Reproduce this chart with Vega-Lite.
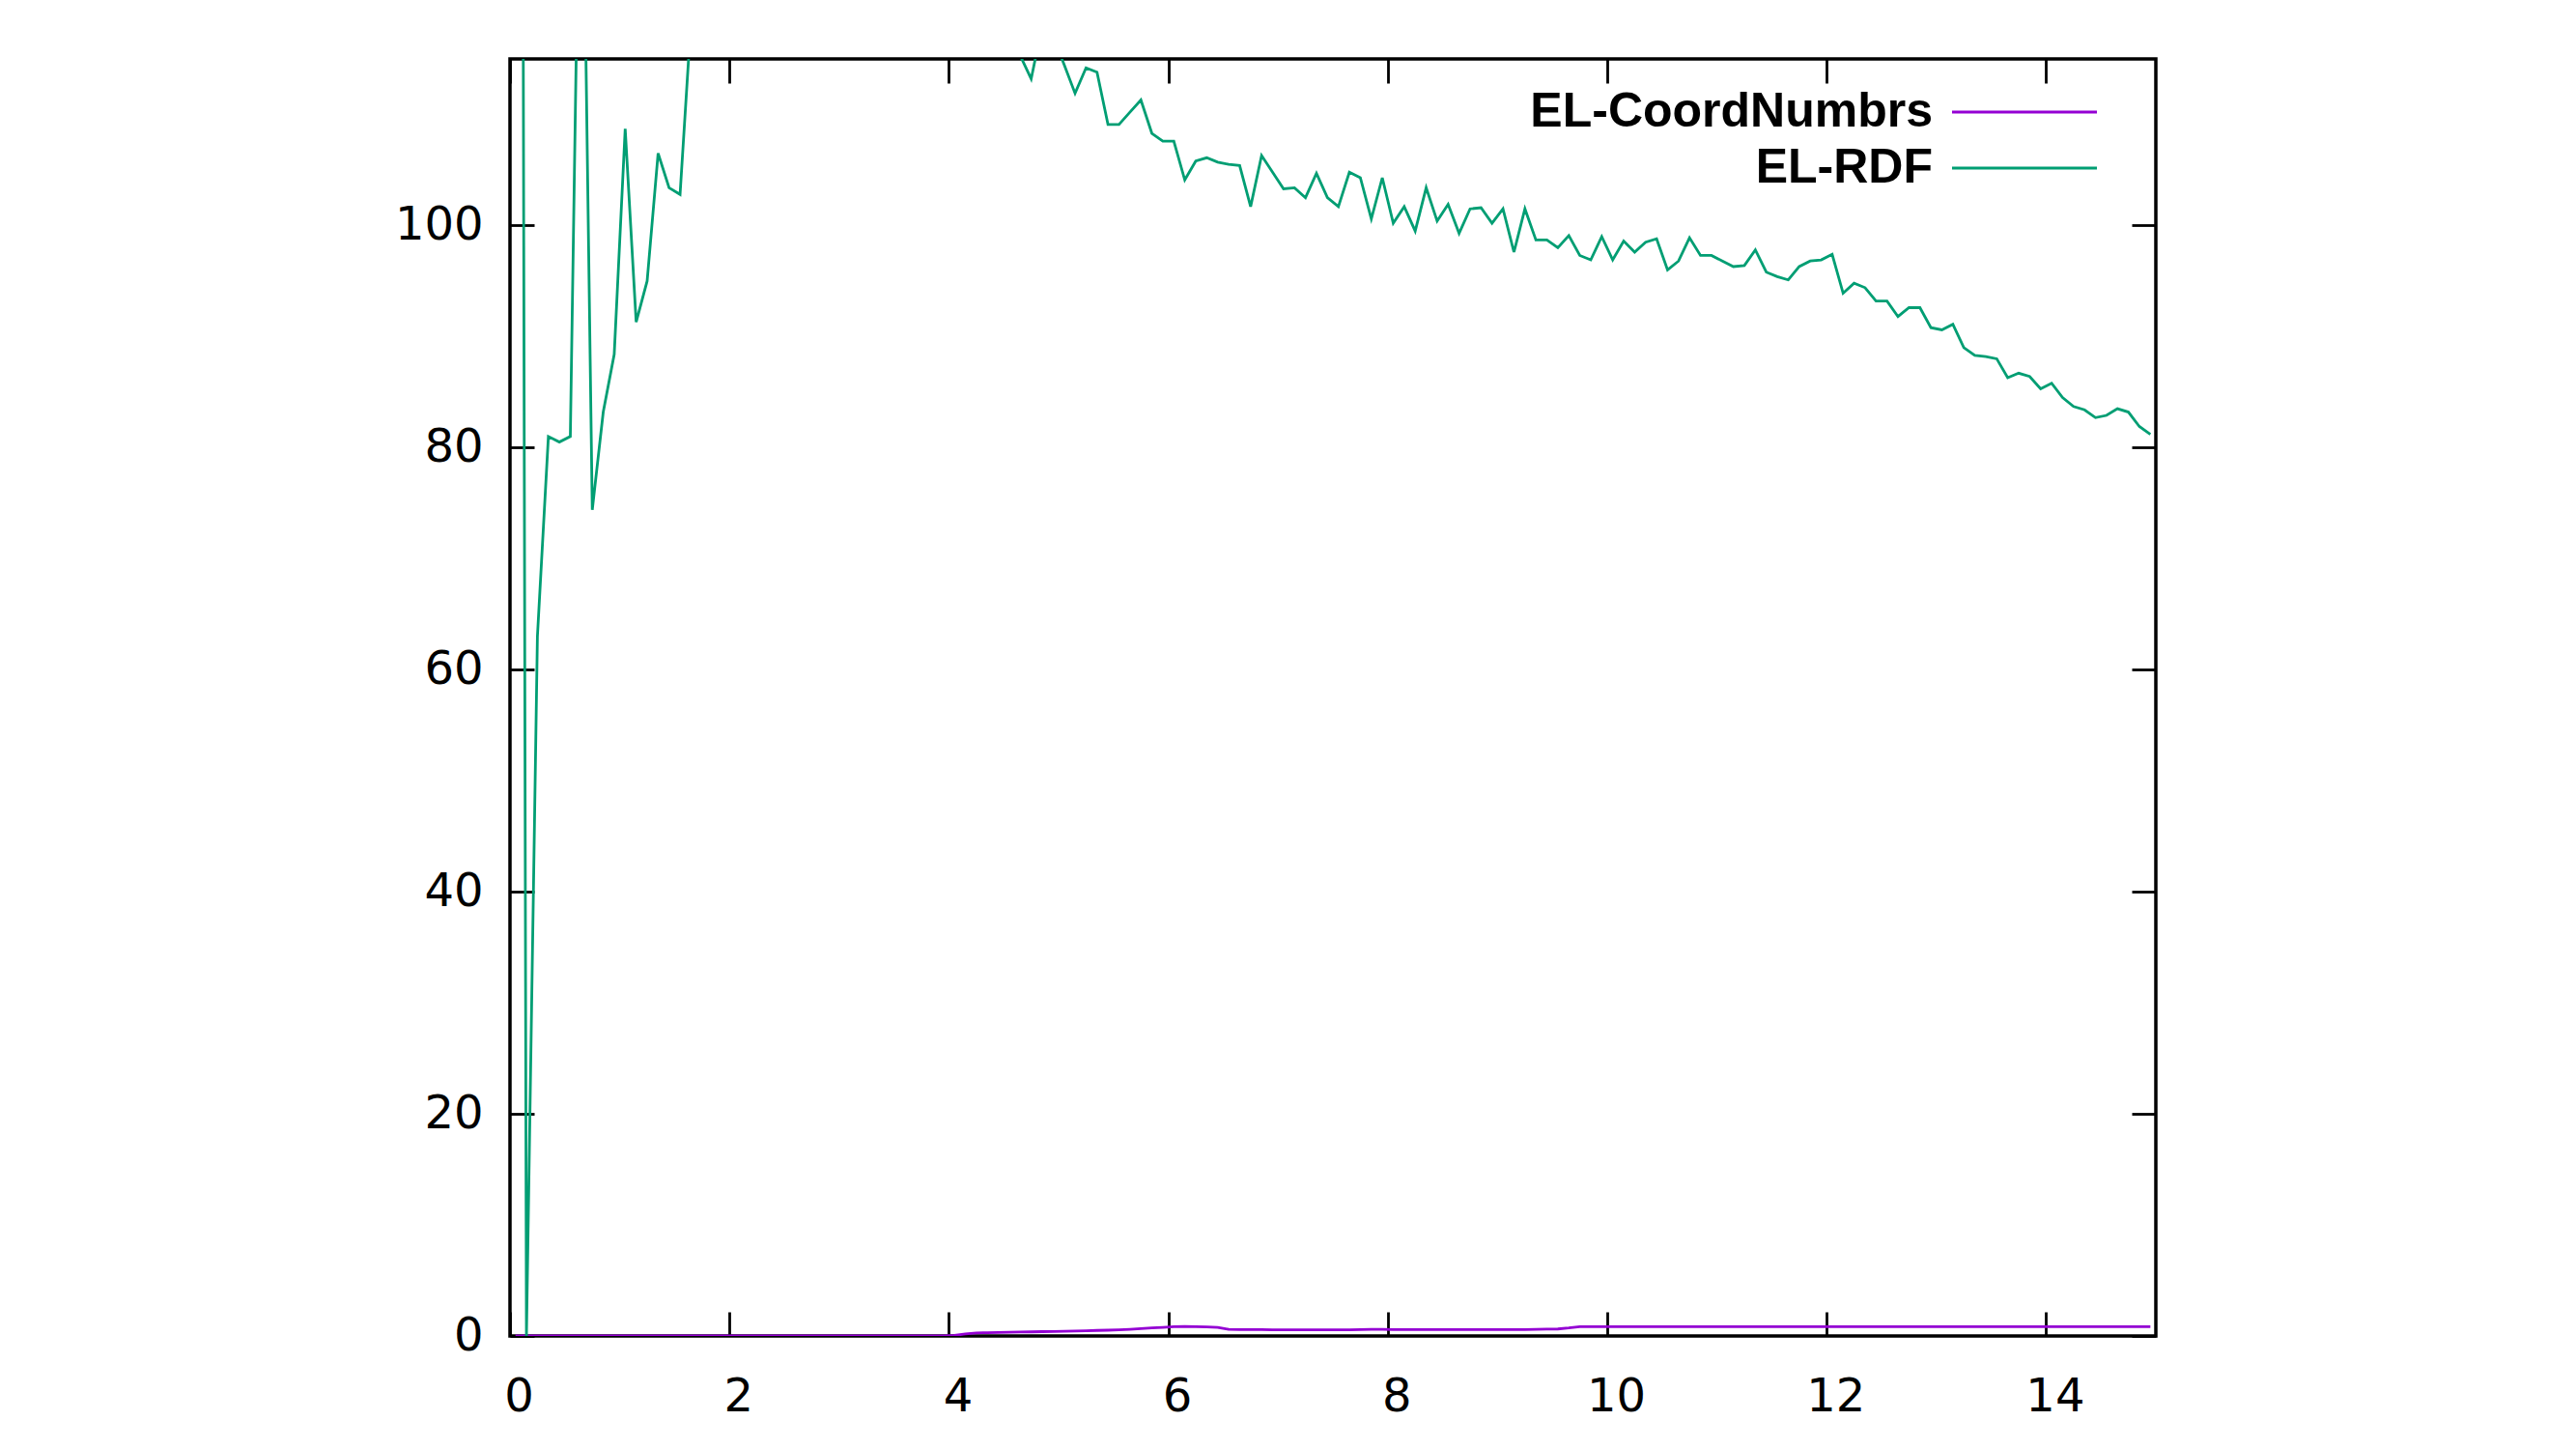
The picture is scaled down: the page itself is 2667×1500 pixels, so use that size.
{
  "$schema": "https://vega.github.io/schema/vega-lite/v6.json",
  "autosize": "none",
  "padding": {"left": 528, "top": 61, "right": 435, "bottom": 117},
  "width": 1704,
  "height": 1322,
  "background": "white",
  "config": {
    "view": {"stroke": "black", "strokeWidth": 3.5},
    "axis": {
      "domain": false,
      "grid": false,
      "tickColor": "black",
      "tickWidth": 2.8,
      "tickSize": -25,
      "labelFont": "DejaVu Sans",
      "labelFontSize": 48,
      "labelColor": "black",
      "title": null
    },
    "legend": {
      "orient": "none",
      "legendX": 1543,
      "legendY": 30,
      "symbolType": "M-5,0H5",
      "symbolSize": 900,
      "symbolStrokeWidth": 2.8,
      "symbolFillColor": "transparent",
      "labelAlign": "right",
      "labelOffset": -120,
      "labelFont": "Liberation Sans",
      "labelFontWeight": "bold",
      "labelFontSize": 50,
      "labelColor": "black",
      "labelLimit": 0,
      "padding": 0,
      "rowPadding": 8
    }
  },
  "data": {
    "values": [
      {"x": 0.05, "EL-CoordNumbrs": 0, "EL-RDF": 400},
      {"x": 0.15, "EL-CoordNumbrs": 0, "EL-RDF": 0},
      {"x": 0.25, "EL-CoordNumbrs": 0, "EL-RDF": 63},
      {"x": 0.35, "EL-CoordNumbrs": 0, "EL-RDF": 81},
      {"x": 0.45, "EL-CoordNumbrs": 0, "EL-RDF": 80.5},
      {"x": 0.55, "EL-CoordNumbrs": 0, "EL-RDF": 81},
      {"x": 0.65, "EL-CoordNumbrs": 0, "EL-RDF": 145},
      {"x": 0.75, "EL-CoordNumbrs": 0, "EL-RDF": 74.4},
      {"x": 0.85, "EL-CoordNumbrs": 0, "EL-RDF": 83.2},
      {"x": 0.95, "EL-CoordNumbrs": 0, "EL-RDF": 88.4},
      {"x": 1.05, "EL-CoordNumbrs": 0, "EL-RDF": 108.7},
      {"x": 1.15, "EL-CoordNumbrs": 0, "EL-RDF": 91.3},
      {"x": 1.25, "EL-CoordNumbrs": 0, "EL-RDF": 95},
      {"x": 1.35, "EL-CoordNumbrs": 0, "EL-RDF": 106.5},
      {"x": 1.45, "EL-CoordNumbrs": 0, "EL-RDF": 103.4},
      {"x": 1.55, "EL-CoordNumbrs": 0, "EL-RDF": 102.8},
      {"x": 1.65, "EL-CoordNumbrs": 0, "EL-RDF": 118.5},
      {"x": 1.75, "EL-CoordNumbrs": 0, "EL-RDF": 124},
      {"x": 1.85, "EL-CoordNumbrs": 0, "EL-RDF": 128},
      {"x": 1.95, "EL-CoordNumbrs": 0, "EL-RDF": 126},
      {"x": 2.05, "EL-CoordNumbrs": 0, "EL-RDF": 131},
      {"x": 2.15, "EL-CoordNumbrs": 0, "EL-RDF": 129},
      {"x": 2.25, "EL-CoordNumbrs": 0, "EL-RDF": 132},
      {"x": 2.35, "EL-CoordNumbrs": 0, "EL-RDF": 130},
      {"x": 2.45, "EL-CoordNumbrs": 0, "EL-RDF": 131},
      {"x": 2.55, "EL-CoordNumbrs": 0, "EL-RDF": 129},
      {"x": 2.65, "EL-CoordNumbrs": 0, "EL-RDF": 130},
      {"x": 2.75, "EL-CoordNumbrs": 0, "EL-RDF": 128},
      {"x": 2.85, "EL-CoordNumbrs": 0, "EL-RDF": 129},
      {"x": 2.95, "EL-CoordNumbrs": 0, "EL-RDF": 127},
      {"x": 3.05, "EL-CoordNumbrs": 0, "EL-RDF": 128},
      {"x": 3.15, "EL-CoordNumbrs": 0, "EL-RDF": 126},
      {"x": 3.25, "EL-CoordNumbrs": 0, "EL-RDF": 127},
      {"x": 3.35, "EL-CoordNumbrs": 0, "EL-RDF": 125},
      {"x": 3.45, "EL-CoordNumbrs": 0, "EL-RDF": 125},
      {"x": 3.55, "EL-CoordNumbrs": 0, "EL-RDF": 124},
      {"x": 3.65, "EL-CoordNumbrs": 0, "EL-RDF": 123},
      {"x": 3.75, "EL-CoordNumbrs": 0, "EL-RDF": 123},
      {"x": 3.85, "EL-CoordNumbrs": 0, "EL-RDF": 122},
      {"x": 3.95, "EL-CoordNumbrs": 0, "EL-RDF": 121},
      {"x": 4.05, "EL-CoordNumbrs": 0.05, "EL-RDF": 121},
      {"x": 4.15, "EL-CoordNumbrs": 0.18, "EL-RDF": 120},
      {"x": 4.25, "EL-CoordNumbrs": 0.28, "EL-RDF": 119},
      {"x": 4.35, "EL-CoordNumbrs": 0.3, "EL-RDF": 119},
      {"x": 4.45, "EL-CoordNumbrs": 0.32, "EL-RDF": 118},
      {"x": 4.55, "EL-CoordNumbrs": 0.34, "EL-RDF": 117},
      {"x": 4.65, "EL-CoordNumbrs": 0.36, "EL-RDF": 115.3},
      {"x": 4.75, "EL-CoordNumbrs": 0.37, "EL-RDF": 113.2},
      {"x": 4.85, "EL-CoordNumbrs": 0.39, "EL-RDF": 118},
      {"x": 4.95, "EL-CoordNumbrs": 0.4, "EL-RDF": 117},
      {"x": 5.05, "EL-CoordNumbrs": 0.42, "EL-RDF": 114.5},
      {"x": 5.15, "EL-CoordNumbrs": 0.45, "EL-RDF": 111.9},
      {"x": 5.25, "EL-CoordNumbrs": 0.47, "EL-RDF": 114.2},
      {"x": 5.35, "EL-CoordNumbrs": 0.5, "EL-RDF": 113.8},
      {"x": 5.45, "EL-CoordNumbrs": 0.52, "EL-RDF": 109.1},
      {"x": 5.55, "EL-CoordNumbrs": 0.55, "EL-RDF": 109.1},
      {"x": 5.65, "EL-CoordNumbrs": 0.6, "EL-RDF": 110.2},
      {"x": 5.75, "EL-CoordNumbrs": 0.66, "EL-RDF": 111.3},
      {"x": 5.85, "EL-CoordNumbrs": 0.72, "EL-RDF": 108.3},
      {"x": 5.95, "EL-CoordNumbrs": 0.78, "EL-RDF": 107.6},
      {"x": 6.05, "EL-CoordNumbrs": 0.84, "EL-RDF": 107.6},
      {"x": 6.15, "EL-CoordNumbrs": 0.85, "EL-RDF": 104.1},
      {"x": 6.25, "EL-CoordNumbrs": 0.84, "EL-RDF": 105.8},
      {"x": 6.35, "EL-CoordNumbrs": 0.82, "EL-RDF": 106.1},
      {"x": 6.45, "EL-CoordNumbrs": 0.78, "EL-RDF": 105.7},
      {"x": 6.55, "EL-CoordNumbrs": 0.6, "EL-RDF": 105.5},
      {"x": 6.65, "EL-CoordNumbrs": 0.57, "EL-RDF": 105.4},
      {"x": 6.75, "EL-CoordNumbrs": 0.57, "EL-RDF": 101.7},
      {"x": 6.85, "EL-CoordNumbrs": 0.57, "EL-RDF": 106.3},
      {"x": 6.95, "EL-CoordNumbrs": 0.56, "EL-RDF": 104.8},
      {"x": 7.05, "EL-CoordNumbrs": 0.56, "EL-RDF": 103.3},
      {"x": 7.15, "EL-CoordNumbrs": 0.56, "EL-RDF": 103.4},
      {"x": 7.25, "EL-CoordNumbrs": 0.56, "EL-RDF": 102.5},
      {"x": 7.35, "EL-CoordNumbrs": 0.56, "EL-RDF": 104.7},
      {"x": 7.45, "EL-CoordNumbrs": 0.56, "EL-RDF": 102.5},
      {"x": 7.55, "EL-CoordNumbrs": 0.56, "EL-RDF": 101.7},
      {"x": 7.65, "EL-CoordNumbrs": 0.56, "EL-RDF": 104.8},
      {"x": 7.75, "EL-CoordNumbrs": 0.57, "EL-RDF": 104.3},
      {"x": 7.85, "EL-CoordNumbrs": 0.6, "EL-RDF": 100.6},
      {"x": 7.95, "EL-CoordNumbrs": 0.6, "EL-RDF": 104.3},
      {"x": 8.05, "EL-CoordNumbrs": 0.58, "EL-RDF": 100.2},
      {"x": 8.15, "EL-CoordNumbrs": 0.57, "EL-RDF": 101.7},
      {"x": 8.25, "EL-CoordNumbrs": 0.57, "EL-RDF": 99.5},
      {"x": 8.35, "EL-CoordNumbrs": 0.57, "EL-RDF": 103.4},
      {"x": 8.45, "EL-CoordNumbrs": 0.57, "EL-RDF": 100.4},
      {"x": 8.55, "EL-CoordNumbrs": 0.57, "EL-RDF": 101.9},
      {"x": 8.65, "EL-CoordNumbrs": 0.57, "EL-RDF": 99.3},
      {"x": 8.75, "EL-CoordNumbrs": 0.57, "EL-RDF": 101.5},
      {"x": 8.85, "EL-CoordNumbrs": 0.57, "EL-RDF": 101.6},
      {"x": 8.95, "EL-CoordNumbrs": 0.57, "EL-RDF": 100.2},
      {"x": 9.05, "EL-CoordNumbrs": 0.57, "EL-RDF": 101.5},
      {"x": 9.15, "EL-CoordNumbrs": 0.57, "EL-RDF": 97.6},
      {"x": 9.25, "EL-CoordNumbrs": 0.57, "EL-RDF": 101.5},
      {"x": 9.35, "EL-CoordNumbrs": 0.6, "EL-RDF": 98.7},
      {"x": 9.45, "EL-CoordNumbrs": 0.62, "EL-RDF": 98.7},
      {"x": 9.55, "EL-CoordNumbrs": 0.63, "EL-RDF": 98.0},
      {"x": 9.65, "EL-CoordNumbrs": 0.72, "EL-RDF": 99.1},
      {"x": 9.75, "EL-CoordNumbrs": 0.84, "EL-RDF": 97.3},
      {"x": 9.85, "EL-CoordNumbrs": 0.84, "EL-RDF": 96.9},
      {"x": 9.95, "EL-CoordNumbrs": 0.84, "EL-RDF": 99.0},
      {"x": 10.05, "EL-CoordNumbrs": 0.84, "EL-RDF": 96.9},
      {"x": 10.15, "EL-CoordNumbrs": 0.84, "EL-RDF": 98.6},
      {"x": 10.25, "EL-CoordNumbrs": 0.84, "EL-RDF": 97.6},
      {"x": 10.35, "EL-CoordNumbrs": 0.84, "EL-RDF": 98.5},
      {"x": 10.45, "EL-CoordNumbrs": 0.84, "EL-RDF": 98.8},
      {"x": 10.55, "EL-CoordNumbrs": 0.84, "EL-RDF": 96.0},
      {"x": 10.65, "EL-CoordNumbrs": 0.84, "EL-RDF": 96.8},
      {"x": 10.75, "EL-CoordNumbrs": 0.84, "EL-RDF": 98.9},
      {"x": 10.85, "EL-CoordNumbrs": 0.84, "EL-RDF": 97.3},
      {"x": 10.95, "EL-CoordNumbrs": 0.84, "EL-RDF": 97.3},
      {"x": 11.05, "EL-CoordNumbrs": 0.84, "EL-RDF": 96.8},
      {"x": 11.15, "EL-CoordNumbrs": 0.84, "EL-RDF": 96.3},
      {"x": 11.25, "EL-CoordNumbrs": 0.84, "EL-RDF": 96.4},
      {"x": 11.35, "EL-CoordNumbrs": 0.84, "EL-RDF": 97.8},
      {"x": 11.45, "EL-CoordNumbrs": 0.84, "EL-RDF": 95.8},
      {"x": 11.55, "EL-CoordNumbrs": 0.84, "EL-RDF": 95.4},
      {"x": 11.65, "EL-CoordNumbrs": 0.84, "EL-RDF": 95.1},
      {"x": 11.75, "EL-CoordNumbrs": 0.84, "EL-RDF": 96.3},
      {"x": 11.85, "EL-CoordNumbrs": 0.84, "EL-RDF": 96.8},
      {"x": 11.95, "EL-CoordNumbrs": 0.84, "EL-RDF": 96.9},
      {"x": 12.05, "EL-CoordNumbrs": 0.84, "EL-RDF": 97.4},
      {"x": 12.15, "EL-CoordNumbrs": 0.84, "EL-RDF": 93.9},
      {"x": 12.25, "EL-CoordNumbrs": 0.84, "EL-RDF": 94.8},
      {"x": 12.35, "EL-CoordNumbrs": 0.84, "EL-RDF": 94.4},
      {"x": 12.45, "EL-CoordNumbrs": 0.84, "EL-RDF": 93.2},
      {"x": 12.55, "EL-CoordNumbrs": 0.84, "EL-RDF": 93.2},
      {"x": 12.65, "EL-CoordNumbrs": 0.84, "EL-RDF": 91.8},
      {"x": 12.75, "EL-CoordNumbrs": 0.84, "EL-RDF": 92.6},
      {"x": 12.85, "EL-CoordNumbrs": 0.84, "EL-RDF": 92.6},
      {"x": 12.95, "EL-CoordNumbrs": 0.84, "EL-RDF": 90.8},
      {"x": 13.05, "EL-CoordNumbrs": 0.84, "EL-RDF": 90.6},
      {"x": 13.15, "EL-CoordNumbrs": 0.84, "EL-RDF": 91.1},
      {"x": 13.25, "EL-CoordNumbrs": 0.84, "EL-RDF": 89.0},
      {"x": 13.35, "EL-CoordNumbrs": 0.84, "EL-RDF": 88.3},
      {"x": 13.45, "EL-CoordNumbrs": 0.84, "EL-RDF": 88.2},
      {"x": 13.55, "EL-CoordNumbrs": 0.84, "EL-RDF": 88.0},
      {"x": 13.65, "EL-CoordNumbrs": 0.84, "EL-RDF": 86.3},
      {"x": 13.75, "EL-CoordNumbrs": 0.84, "EL-RDF": 86.7},
      {"x": 13.85, "EL-CoordNumbrs": 0.84, "EL-RDF": 86.4},
      {"x": 13.95, "EL-CoordNumbrs": 0.84, "EL-RDF": 85.3},
      {"x": 14.05, "EL-CoordNumbrs": 0.84, "EL-RDF": 85.8},
      {"x": 14.15, "EL-CoordNumbrs": 0.84, "EL-RDF": 84.5},
      {"x": 14.25, "EL-CoordNumbrs": 0.84, "EL-RDF": 83.7},
      {"x": 14.35, "EL-CoordNumbrs": 0.84, "EL-RDF": 83.4},
      {"x": 14.45, "EL-CoordNumbrs": 0.84, "EL-RDF": 82.7},
      {"x": 14.55, "EL-CoordNumbrs": 0.84, "EL-RDF": 82.9},
      {"x": 14.65, "EL-CoordNumbrs": 0.84, "EL-RDF": 83.5},
      {"x": 14.75, "EL-CoordNumbrs": 0.84, "EL-RDF": 83.2},
      {"x": 14.85, "EL-CoordNumbrs": 0.84, "EL-RDF": 81.9},
      {"x": 14.95, "EL-CoordNumbrs": 0.84, "EL-RDF": 81.2}
    ]
  },
  "transform": [
    {"fold": ["EL-CoordNumbrs", "EL-RDF"], "as": ["series", "value"]}
  ],
  "layer": [
    {
      "mark": {"type": "line", "clip": true, "strokeWidth": 2.8},
      "encoding": {
        "x": {
          "field": "x", "type": "quantitative",
          "scale": {"domain": [0, 15], "nice": false, "zero": false},
          "axis": {"orient": "bottom", "values": [0, 2, 4, 6, 8, 10, 12, 14], "labelPadding": 64, "labelOffset": 9, "labelFlush": false}
        },
        "y": {
          "field": "value", "type": "quantitative",
          "scale": {"domain": [0, 115], "nice": false},
          "axis": {"orient": "left", "values": [0, 20, 40, 60, 80, 100], "labelPadding": 53}
        },
        "color": {
          "field": "series", "type": "nominal",
          "scale": {"domain": ["EL-CoordNumbrs", "EL-RDF"], "range": ["#9400d3", "#009e73"]},
          "legend": {"title": null}
        }
      }
    },
    {
      "mark": {"type": "point", "opacity": 0},
      "encoding": {
        "x": {
          "field": "x", "type": "quantitative",
          "axis": {"orient": "top", "values": [0, 2, 4, 6, 8, 10, 12, 14], "labels": false}
        },
        "y": {
          "field": "value", "type": "quantitative",
          "axis": {"orient": "right", "values": [0, 20, 40, 60, 80, 100], "labels": false}
        }
      }
    }
  ],
  "resolve": {"axis": {"x": "independent", "y": "independent"}}
}
